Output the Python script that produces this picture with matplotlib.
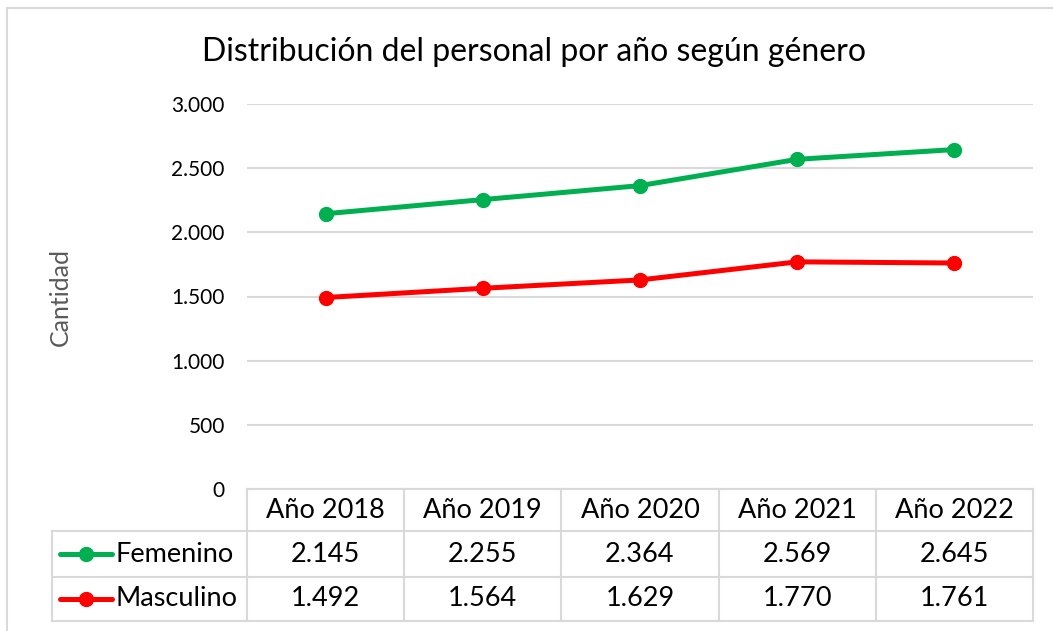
import matplotlib
matplotlib.use('Agg')
import matplotlib.pyplot as plt
from matplotlib.lines import Line2D
from matplotlib.patches import Rectangle

# Datos
anios = ['Año 2018', 'Año 2019', 'Año 2020', 'Año 2021', 'Año 2022']
femenino = [2145, 2255, 2364, 2569, 2645]
masculino = [1492, 1564, 1629, 1770, 1761]
series = ['Femenino', 'Masculino']
colores = ['#00B050', '#FF0000']
y_ticks = [0, 500, 1000, 1500, 2000, 2500, 3000]

def fmt(v):
    return f'{v:,}'.replace(',', '.')

plt.rcParams['font.family'] = ['Lato', 'DejaVu Sans']

W, H = 1053, 631
fig = plt.figure(figsize=(W / 100, H / 100), dpi=100)

def fx(x):
    return x / W

def fy(y):
    return 1 - y / H

# borde exterior
fig.add_artist(Rectangle((fx(7), fy(640)), fx(1060 - 7), fy(8) - fy(640),
                         transform=fig.transFigure, fill=False,
                         edgecolor='#D9D9D9', linewidth=1.5))

left, right, top, bottom = 247, 1033, 104, 489
ax = fig.add_axes([fx(left), fy(bottom), fx(right - left), fy(top) - fy(bottom)])

x = range(len(anios))
for vals, c in zip([femenino, masculino], colores):
    ax.plot(x, vals, color=c, linewidth=3.6, marker='o', markersize=10,
            solid_capstyle='round', zorder=3)

ax.set_xlim(-0.5, len(anios) - 0.5)
ax.set_ylim(0, 3000)
ax.set_yticks(y_ticks)
ax.set_yticklabels([fmt(v) for v in y_ticks], fontsize=15)
ax.tick_params(axis='y', length=0, pad=16)
ax.set_xticks([])
ax.grid(axis='y', color='#D9D9D9', linewidth=1.5)
ax.set_axisbelow(True)
for s in ax.spines.values():
    s.set_visible(False)

fig.text(fx(60), fy(297), 'Cantidad', rotation=90, ha='center', va='center',
         fontsize=18, color='#595959')
fig.text(fx(534), fy(52), 'Distribución del personal por año según género',
         ha='center', va='center', fontsize=23)

# Tabla de datos
col_w = (right - left) / len(anios)
rows_y = [489, 531, 577, 621]
lab_left = 52
lc = '#D9D9D9'
lw = 1.5

def hline(x0, x1, y):
    fig.add_artist(Line2D([fx(x0), fx(x1)], [fy(y), fy(y)], color=lc, linewidth=lw))

def vline(xp, y0, y1):
    fig.add_artist(Line2D([fx(xp), fx(xp)], [fy(y0), fy(y1)], color=lc, linewidth=lw))

hline(left, right, rows_y[0])
for y in rows_y[1:]:
    hline(lab_left, right, y)
vline(lab_left, rows_y[1], rows_y[3])
for i in range(len(anios) + 1):
    vline(left + i * col_w, rows_y[0], rows_y[3])

for i, a in enumerate(anios):
    cx = left + (i + 0.5) * col_w
    fig.text(fx(cx), fy((rows_y[0] + rows_y[1]) / 2), a, ha='center', va='center', fontsize=19.5)
    for r, vals in enumerate([femenino, masculino]):
        cy = (rows_y[r + 1] + rows_y[r + 2]) / 2
        fig.text(fx(cx), fy(cy), fmt(vals[i]), ha='center', va='center', fontsize=19.5)

for r, (name, c) in enumerate(zip(series, colores)):
    cy = (rows_y[r + 1] + rows_y[r + 2]) / 2
    fig.add_artist(Line2D([fx(60), fx(112)], [fy(cy), fy(cy)], color=c, linewidth=3.6,
                          solid_capstyle='round'))
    fig.add_artist(Line2D([fx(86)], [fy(cy)], color=c, marker='o', markersize=10))
    fig.text(fx(116), fy(cy), name, ha='left', va='center', fontsize=19.5)

fig.savefig('out.png', dpi=100, facecolor='white')
